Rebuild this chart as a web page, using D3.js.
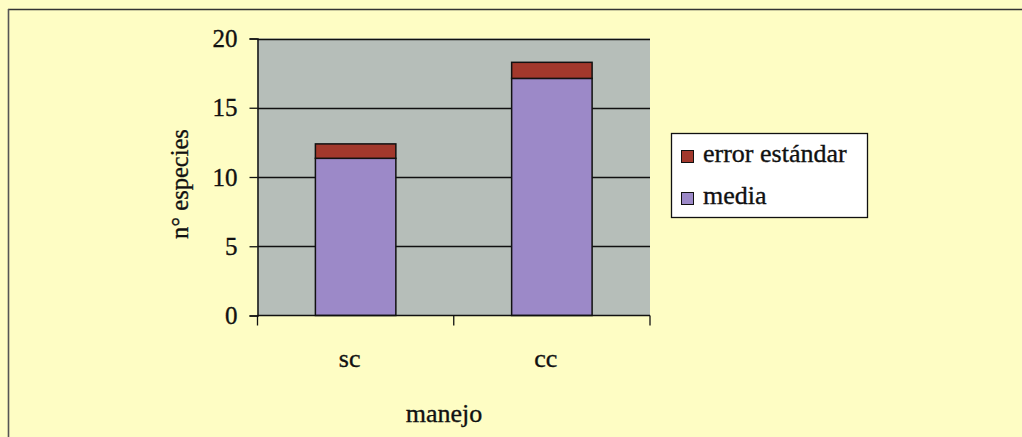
<!DOCTYPE html>
<html><head><meta charset="utf-8">
<script src="https://cdn.jsdelivr.net/npm/d3@7"></script>
<style>
html,body{margin:0;padding:0;background:#fefdc4;}
svg{display:block;}
</style></head><body>
<svg id="c" width="1022" height="437"></svg>
<script>
const categories = ["sc", "cc"];
const media = [11.35, 17.12];
const errorEstandar = [1.04, 1.16];
const yTicks = [0, 5, 10, 15, 20];
const seriesNames = ["error estándar", "media"];
const colors = {"media": "#9c89c8", "error estándar": "#a2382c"};

const FONT = "'Liberation Serif', 'Times New Roman', 'DejaVu Serif', serif";
const svg = d3.select("#c");
const W = 1022, H = 437;
const m = {left: 257.5, right: 650, top: 38.5, bottom: 315.5};

function styleText(sel, size) {
  return sel.style("font-family", FONT).style("font-size", size + "px")
    .style("fill", "#111").style("stroke", "#111").style("stroke-width", "0.35px");
}

// page background and scanned frame
svg.append("rect").attr("width", W).attr("height", H).attr("fill", "#fefdc4");
svg.append("line").attr("x1", 8).attr("x2", W).attr("y1", 9.5).attr("y2", 9.5)
  .attr("stroke", "#333").attr("stroke-width", 1.6);
svg.append("line").attr("x1", 8.5).attr("x2", 8.5).attr("y1", 9).attr("y2", H)
  .attr("stroke", "#555").attr("stroke-width", 1.6);

const x = d3.scaleBand().domain(categories).range([m.left, m.right]).paddingInner(0.59).paddingOuter(0.295);
const y = d3.scaleLinear().domain([0, 20]).range([m.bottom, m.top]);

// plot area
svg.append("rect").attr("x", m.left).attr("y", m.top)
  .attr("width", m.right - m.left).attr("height", m.bottom - m.top).attr("fill", "#b6beb9");

// gridlines
svg.append("g").selectAll("line").data(yTicks.filter(d => d > 0)).join("line")
  .attr("x1", m.left).attr("x2", m.right)
  .attr("y1", d => Math.round(y(d)) + 0.5).attr("y2", d => Math.round(y(d)) + 0.5)
  .attr("stroke", "#111").attr("stroke-width", 1.3);

// stacked bars
const rows = categories.map((c, i) => ({cat: c, media: media[i], "error estándar": errorEstandar[i]}));
const stack = d3.stack().keys(["media", "error estándar"])(rows);
svg.append("g").selectAll("g").data(stack).join("g")
  .attr("fill", d => colors[d.key])
  .selectAll("rect").data(d => d).join("rect")
  .attr("x", d => x(d.data.cat))
  .attr("width", x.bandwidth())
  .attr("y", d => y(d[1]))
  .attr("height", d => y(d[0]) - y(d[1]))
  .attr("stroke", "#111").attr("stroke-width", 1.5);

// y axis
const yAxis = d3.axisLeft(y).tickValues(yTicks).tickSize(8).tickPadding(12);
const gy = svg.append("g").attr("transform", `translate(${m.left},0)`).call(yAxis);
gy.attr("font-family", null).attr("font-size", null);
gy.select(".domain").attr("stroke", "#111").attr("stroke-width", 1.5);
gy.selectAll(".tick line").attr("stroke", "#111").attr("stroke-width", 1.3);
styleText(gy.selectAll(".tick text"), 25);

// x axis: ticks at category boundaries
const xBounds = [m.left, (m.left + m.right) / 2, m.right];
const gx = svg.append("g");
gx.append("line").attr("x1", m.left).attr("x2", m.right).attr("y1", m.bottom).attr("y2", m.bottom)
  .attr("stroke", "#111").attr("stroke-width", 1.5);
gx.selectAll("line.t").data(xBounds).join("line").attr("class", "t")
  .attr("x1", d => d).attr("x2", d => d).attr("y1", m.bottom).attr("y2", m.bottom + 10)
  .attr("stroke", "#111").attr("stroke-width", 1.3);
styleText(gx.selectAll("text").data(categories).join("text")
  .attr("x", d => x(d) + x.bandwidth() / 2 - 6)
  .attr("y", 367)
  .attr("text-anchor", "middle").text(d => d), 26);

// axis titles
styleText(svg.append("text").attr("x", 444).attr("y", 422).attr("text-anchor", "middle")
  .text("manejo"), 26);
styleText(svg.append("text").attr("transform", "translate(188,184) rotate(-90)")
  .attr("text-anchor", "middle").text("n° especies"), 24.5);

// legend
const lg = svg.append("g");
lg.append("rect").attr("x", 671.5).attr("y", 133.5).attr("width", 196).attr("height", 84)
  .attr("fill", "#ffffff").attr("stroke", "#111").attr("stroke-width", 1.3);
const li = lg.selectAll("g.item").data(seriesNames).join("g").attr("class", "item")
  .attr("transform", (d, i) => `translate(0,${i * 42})`);
li.append("rect").attr("x", 681.5).attr("y", 150.5).attr("width", 12).attr("height", 12)
  .attr("fill", d => colors[d]).attr("stroke", "#111").attr("stroke-width", 1);
styleText(li.append("text").attr("x", 703).attr("y", 162).text(d => d), 26);
</script>
</body></html>
